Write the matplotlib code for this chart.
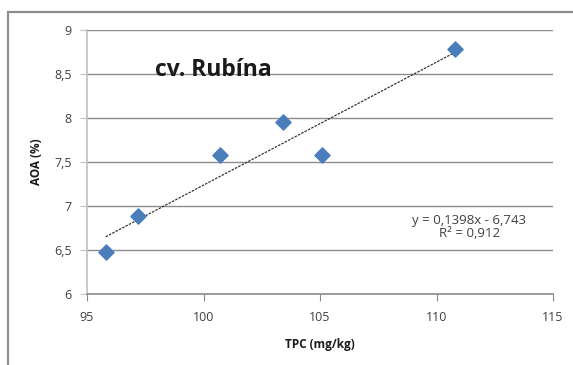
import numpy as np
import matplotlib.pyplot as plt
from matplotlib.patches import Rectangle

# data
tpc = [95.8, 97.2, 100.7, 103.4, 105.1, 110.8]
aoa = [6.48, 6.89, 7.58, 7.95, 7.58, 8.78]
slope = 0.1398
intercept = -6.743
eq_text = "y = 0,1398x - 6,743\nR² = 0,912"

x_ticks = [95, 100, 105, 110, 115]
y_ticks = [6, 6.5, 7, 7.5, 8, 8.5, 9]

plt.rcParams["font.family"] = ["Open Sans", "DejaVu Sans"]

fig = plt.figure(figsize=(5.73, 3.65), dpi=100)
# outer chart frame (partly cut off at right/bottom)
fig.patches.append(Rectangle((8 / 573, -0.05), 1.2, 1 - 12 / 365 + 0.05,
                             transform=fig.transFigure, fill=False,
                             edgecolor="#8c8c8c", linewidth=1.6))

ax = fig.add_axes([87 / 573, 1 - 294 / 365, (553 - 87) / 573, (294 - 30) / 365])
ax.set_xlim(95, 115)
ax.set_ylim(6, 9)
ax.set_xticks(x_ticks)
ax.set_yticks(y_ticks)
ax.set_xticklabels([str(t) for t in x_ticks])
ax.set_yticklabels([str(t).replace(".", ",").replace(",0", "") for t in y_ticks])

ax.yaxis.grid(True, color="#8c8c8c", linewidth=1)
ax.set_axisbelow(True)
for side in ["top", "right"]:
    ax.spines[side].set_visible(False)
ax.spines["left"].set_color("#bfbfbf")
ax.spines["left"].set_linewidth(1.2)
ax.spines["bottom"].set_color("#8c8c8c")
ax.spines["bottom"].set_linewidth(1.2)
ax.tick_params(axis="x", length=5, color="#8c8c8c", labelsize=9, labelcolor="#404040", pad=7)
ax.tick_params(axis="y", length=5, color="#bfbfbf", labelsize=9, labelcolor="#404040", pad=6)

ax.scatter(tpc, aoa, marker="D", s=60, color="#4a7ebb", zorder=3)

xs = np.array([min(tpc), max(tpc)])
ax.plot(xs, slope * xs + intercept, color="#333333", linewidth=0.9,
        linestyle=(0, (2, 1)), zorder=2)

ax.text(97.9, 8.55, "cv. Rubína", fontsize=16.5, fontweight="bold", color="#1a1a1a",
        va="center")
ax.text(111.4, 6.76, eq_text, fontsize=9.5, color="#404040", ha="center",
        va="center", linespacing=1.05)

ax.set_xlabel("TPC (mg/kg)", fontsize=8.5, fontweight="bold", color="#1a1a1a", labelpad=10)
ax.set_ylabel("AOA (%)", fontsize=8.5, fontweight="bold", color="#1a1a1a", labelpad=8)

fig.savefig("out.png", dpi=100)
